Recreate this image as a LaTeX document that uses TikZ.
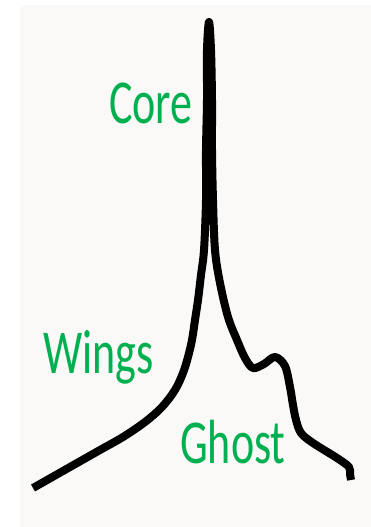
\documentclass[tikz,border=0pt]{standalone}
\usepackage{fontspec}
\setmainfont{Carlito}
\usepackage{graphicx}
\usepackage{tikz}
\usetikzlibrary{positioning}
\definecolor{labelgreen}{RGB}{0, 176, 80}
\definecolor{paper}{RGB}{250, 249, 248}
\begin{document}
\begin{tikzpicture}[x=1pt, y=-1pt,
    lbl/.style={anchor=base west, inner sep=0pt, text=labelgreen,
                font=\fontsize{44}{44}\selectfont},
    profile/.style={draw=black, line width=8pt, line join=round}
]

%% ── CANVAS ──────────────────────────────────────────────────────────────────
\useasboundingbox (0,0) rectangle (371,527);
\fill[white] (0,0) rectangle (371,527);
\fill[paper] (20,5) rectangle (371,527);

%% ── LINE PROFILE ────────────────────────────────────────────────────────────
% left wing up to the core, then down the right side and over the ghost bump
\draw[profile] plot[smooth, tension=0.55] coordinates {
    (33,488) (70,467) (100,450) (123,437) (145,422) (162,407) (175,390)
    (183,373) (188,357) (192,340) (195,320) (198,300) (201,275) (204,250)
    (206,200) (206,150) (207,100) (207,50) (209,22)
    (211,50) (212,100) (212,150) (213,200) (215,250) (220,283) (228,317)
    (237,340) (245,358) (253,368) (264,364) (275,357) (285,366) (290,387)
    (293,405) (296,420) (301,433) (313,443) (337,458) (349,467) (350,474)
    (351,480)};

%% ── LABELS ──────────────────────────────────────────────────────────────────
\node[lbl] (core)  at (109,123) {\scalebox{1}[1.42]{Core}};
\node[lbl] (wings) at (43,373)  {\scalebox{1}[1.42]{Wings}};
\node[lbl] (ghost) at (180,463) {\scalebox{1}[1.42]{Ghost}};

\end{tikzpicture}
\end{document}
